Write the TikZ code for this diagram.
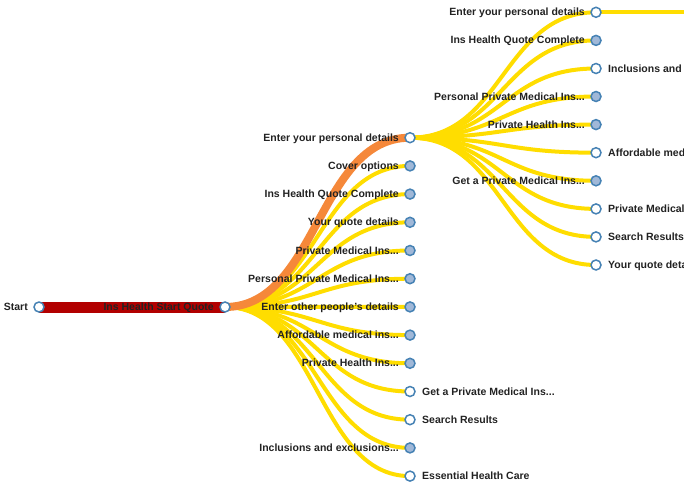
\documentclass[tikz,border=0pt]{standalone}
\usepackage{fontspec}
\setmainfont{Liberation Sans}
\usetikzlibrary{backgrounds}
\definecolor{linkyellow}{RGB}{255,221,0}
\definecolor{linkorange}{RGB}{245,136,58}
\definecolor{linkred}{RGB}{178,0,0}
\definecolor{nodestroke}{RGB}{70,130,180}
\definecolor{nodefill}{RGB}{160,184,216}
\definecolor{labeltext}{RGB}{34,34,34}
\tikzset{
  treenode/.style={circle, draw=nodestroke, line width=1.5pt, minimum size=10pt, inner sep=0pt, fill=white},
  collapsed/.style={treenode, fill=nodefill},
  lbl/.style={font=\fontsize{10.5}{12}\selectfont\bfseries, text=labeltext, inner sep=0pt},
  lbll/.style={lbl, anchor=base east, xshift=-11pt, yshift=-3.6pt},
  lblr/.style={lbl, anchor=base west, xshift=12pt, yshift=-3.6pt},
  ylink/.style={draw=linkyellow, line width=4pt},
  olink/.style={draw=linkorange, line width=8pt},
  rlink/.style={draw=linkred, line width=11pt},
}
\begin{document}
\begin{tikzpicture}[x=1pt,y=-1pt]
\useasboundingbox (0,0) rectangle (684,489);
\clip (0,0) rectangle (684,489);
% level 0 and 1
\node[treenode] (start) at (39,307) {};
\node[lbll] at (start.center) {Start};
\node[treenode] (ihsq) at (225,307) {};
\node[lbll] at (ihsq.center) {Ins Health Start Quote};
% level 2
\node[treenode]  (b0)  at (410,137.7) {};
\node[collapsed] (b1)  at (410,165.9) {};
\node[collapsed] (b2)  at (410,194.1) {};
\node[collapsed] (b3)  at (410,222.3) {};
\node[collapsed] (b4)  at (410,250.5) {};
\node[collapsed] (b5)  at (410,278.7) {};
\node[collapsed] (b6)  at (410,306.9) {};
\node[collapsed] (b7)  at (410,335.1) {};
\node[collapsed] (b8)  at (410,363.3) {};
\node[treenode]  (b9)  at (410,391.5) {};
\node[treenode]  (b10) at (410,419.7) {};
\node[collapsed] (b11) at (410,447.9) {};
\node[treenode]  (b12) at (410,476.1) {};
\node[lbll] at (b0.center) {Enter your personal details};
\node[lbll] at (b1.center) {Cover options};
\node[lbll] at (b2.center) {Ins Health Quote Complete};
\node[lbll] at (b3.center) {Your quote details};
\node[lbll] at (b4.center) {Private Medical Ins...};
\node[lbll] at (b5.center) {Personal Private Medical Ins...};
\node[lbll] at (b6.center) {Enter other people's details};
\node[lbll] at (b7.center) {Affordable medical ins...};
\node[lbll] at (b8.center) {Private Health Ins...};
\node[lblr] at (b9.center) {Get a Private Medical Ins...};
\node[lblr] at (b10.center) {Search Results};
\node[lbll] at (b11.center) {Inclusions and exclusions...};
\node[lblr] at (b12.center) {Essential Health Care};
% level 3
\node[treenode]  (c0) at (596,12.3) {};
\node[collapsed] (c1) at (596,40.4) {};
\node[treenode]  (c2) at (596,68.5) {};
\node[collapsed] (c3) at (596,96.5) {};
\node[collapsed] (c4) at (596,124.6) {};
\node[treenode]  (c5) at (596,152.7) {};
\node[collapsed] (c6) at (596,180.8) {};
\node[treenode]  (c7) at (596,208.9) {};
\node[treenode]  (c8) at (596,236.9) {};
\node[treenode]  (c9) at (596,265.0) {};
\node[lbll] at (c0.center) {Enter your personal details};
\node[lbll] at (c1.center) {Ins Health Quote Complete};
\node[lblr] at (c2.center) {Inclusions and exclusions...};
\node[lbll] at (c3.center) {Personal Private Medical Ins...};
\node[lbll] at (c4.center) {Private Health Ins...};
\node[lblr] at (c5.center) {Affordable medical ins...};
\node[lbll] at (c6.center) {Get a Private Medical Ins...};
\node[lblr] at (c7.center) {Private Medical Ins...};
\node[lblr] at (c8.center) {Search Results};
\node[lblr] at (c9.center) {Your quote details};
% level 4 (off the picture)
\coordinate (d0) at (782,12.3);
\begin{scope}[on background layer]
\clip (0,0) rectangle (684,489);
\draw[rlink] (start.center) .. controls +(93,0) and +(-93,0) .. (ihsq.center);
\foreach \n in {b1,b2,b3,b4,b5,b6,b7,b8,b9,b10,b11,b12}{
  \draw[ylink] (ihsq.center) .. controls +(92.5,0) and +(-92.5,0) .. (\n.center);
}
\draw[olink] (ihsq.center) .. controls +(92.5,0) and +(-92.5,0) .. (b0.center);
\foreach \n in {c0,c1,c2,c3,c4,c5,c6,c7,c8,c9}{
  \draw[ylink] (b0.center) .. controls +(93,0) and +(-93,0) .. (\n.center);
}
\draw[ylink] (c0.center) .. controls +(93,0) and +(-93,0) .. (d0);
\end{scope}
\end{tikzpicture}
\end{document}
